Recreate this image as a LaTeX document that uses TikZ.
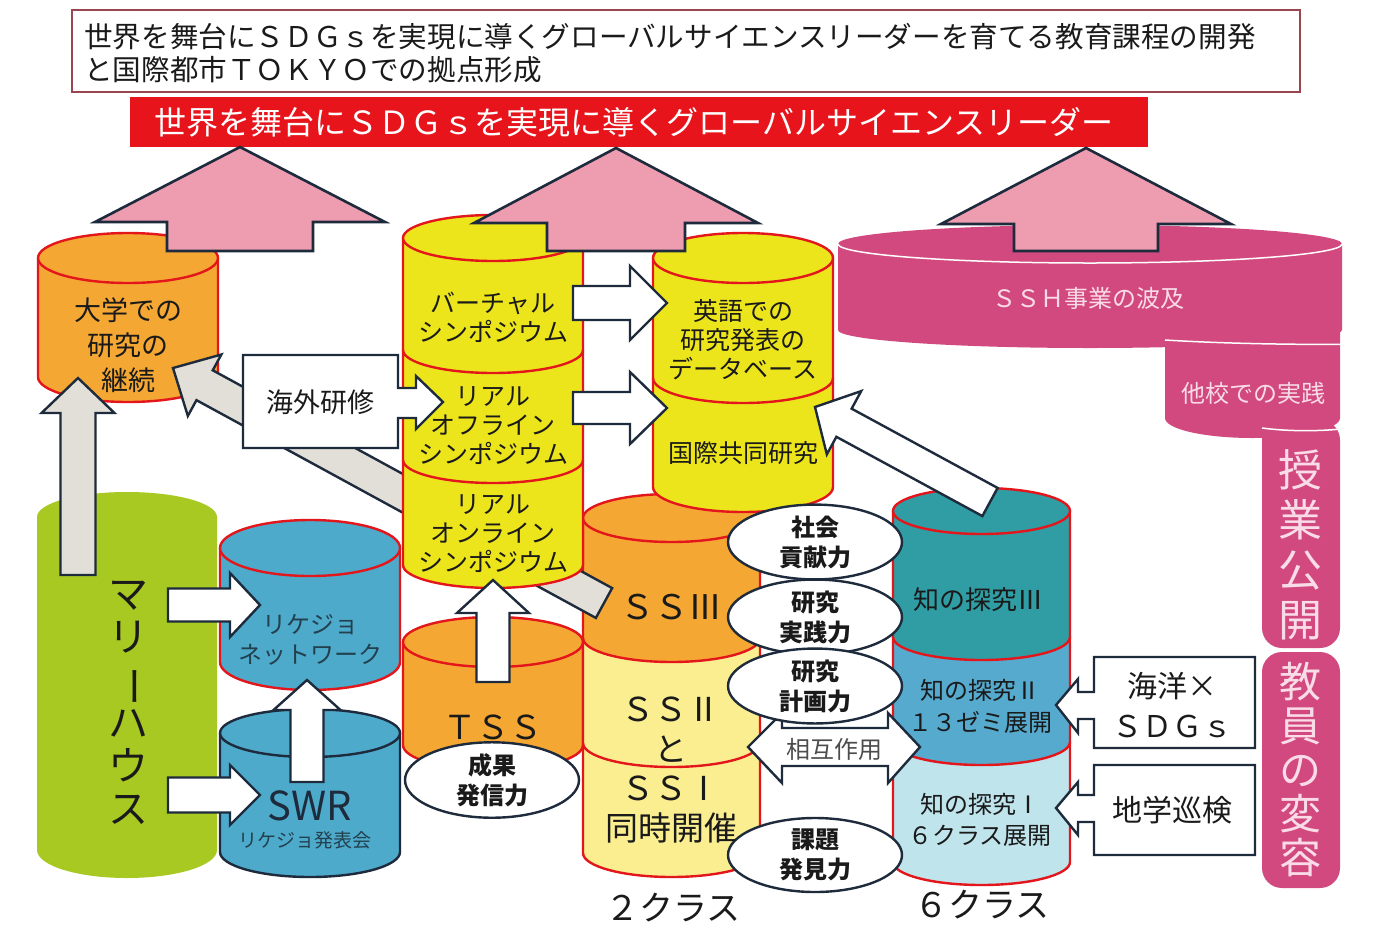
\documentclass[tikz,border=0pt]{standalone}
\usepackage{fontspec}
\setmainfont{Noto Sans CJK JP}
\usetikzlibrary{calc,shapes.geometric}
\definecolor{navy}{HTML}{1E2B3C}
\definecolor{cred}{HTML}{E3161B}
\definecolor{banner}{HTML}{E8141C}
\definecolor{pinkarrow}{HTML}{EE9DB0}
\definecolor{orng}{HTML}{F5A733}
\definecolor{yel}{HTML}{EDE51C}
\definecolor{paleyel}{HTML}{FAEE90}
\definecolor{grn}{HTML}{A8C822}
\definecolor{blu}{HTML}{4DAACB}
\definecolor{tealA}{HTML}{2F9DA3}
\definecolor{tealB}{HTML}{55AACE}
\definecolor{tealC}{HTML}{BFE4EC}
\definecolor{mag}{HTML}{D2497F}
\definecolor{magtxt}{HTML}{F9DCE7}
\definecolor{grayarrow}{HTML}{E2DFD8}
\definecolor{titleborder}{HTML}{9B4550}
\definecolor{txt}{HTML}{1A1A1A}
\definecolor{bluetxt}{HTML}{22404E}
\newcommand\fs[2]{\fontsize{#1pt}{#2pt}\selectfont}
\newcommand\cylbody[7]{%
 \fill[#6] ({#1-#4},#2) -- ({#1-#4},#3) arc[start angle=180,end angle=360,x radius=#4pt,y radius=#5pt] -- ({#1+#4},#2) -- cycle;
 \draw[#7] ({#1-#4},#2) -- ({#1-#4},#3) arc[start angle=180,end angle=360,x radius=#4pt,y radius=#5pt] -- ({#1+#4},#2);}
\newcommand\cyltop[6]{\filldraw[fill=#5,#6] (#1,#2) ellipse[x radius=#3pt,y radius=#4pt];}
\newcommand\cylband[6]{\fill[#6] ({#1-#4},#2) arc[start angle=180,end angle=360,x radius=#4pt,y radius=#5pt] -- ({#1+#4},#3) arc[start angle=0,end angle=-180,x radius=#4pt,y radius=#5pt] -- cycle;}
\newcommand\cyldiv[5]{\draw[#5] ({#1-#3},#2) arc[start angle=180,end angle=360,x radius=#3pt,y radius=#4pt];}
\newcommand\barrow[6]{%
 \coordinate (ba-t) at #1; \coordinate (ba-h) at #2;
 \coordinate (ba-b) at ($(ba-h)!#5!(ba-t)$);
 \draw[#6] ($(ba-t)!#3!90:(ba-h)$) -- ($(ba-b)!#3!90:(ba-h)$) -- ($(ba-b)!#4!90:(ba-h)$) -- (ba-h) -- ($(ba-b)!#4!-90:(ba-h)$) -- ($(ba-b)!#3!-90:(ba-h)$) -- ($(ba-t)!#3!-90:(ba-h)$) -- cycle;}
\tikzset{
 redline/.style={draw=cred,line width=2.4pt},
 navyline/.style={draw=navy,line width=2.4pt},
 noline/.style={draw=none},
 pinkarr/.style={fill=pinkarrow,draw=navy,line width=2.6pt,line join=miter},
 grayarr/.style={fill=grayarrow,draw=navy,line width=2.4pt,line join=miter},
 whitearr/.style={fill=white,draw=navy,line width=2.4pt,line join=miter},
 lbl/.style={inner sep=0pt,align=center,text=txt},
 maglbl/.style={inner sep=0pt,align=center,text=magtxt},
 oval/.style={ellipse,draw=navy,line width=2.4pt,fill=white,minimum width=174pt,minimum height=74pt,inner sep=0pt,align=center,text=txt,font={\fs{24}{30}\bfseries}},
}
\begin{document}
\begin{tikzpicture}[x=1pt,y=-1pt]
\useasboundingbox (0,0) rectangle (1392,927);
\fill[white] (0,0) rectangle (1392,927);
% title
\draw[titleborder,line width=1.5pt,fill=white] (72,10) rectangle (1300,92);
\node[lbl,anchor=west,align=left,font={\fs{28.6}{33}}] (title) at (84,53.5) {世界を舞台にＳＤＧｓを実現に導くグローバルサイエンスリーダーを育てる教育課程の開発\\と国際都市ＴＯＫＹＯでの拠点形成};
\fill[banner] (130,97) rectangle (1148,147);
\node[inner sep=0pt,text=white,font={\fs{32}{36}}] (bannertext) at (634,122) {世界を舞台にＳＤＧｓを実現に導くグローバルサイエンスリーダー};
% university cylinder
\cylbody{128}{258}{377}{90}{25}{orng}{redline}
\cyltop{128}{258}{90}{25}{orng}{redline}
% green
\cylbody{127}{517}{850}{90}{28}{grn}{noline}
\cyltop{127}{517}{90}{25}{grn}{noline}
% rikejo network
\cylbody{310}{548}{662}{90}{28}{blu}{redline}
\cyltop{310}{548}{90}{28}{blu}{redline}
% SWR
\cylbody{310}{733}{852}{90}{25}{blu}{navyline}
\cyltop{310}{733}{90}{24}{blu}{navyline}
% TSS
\cylbody{493}{642}{745}{90}{25}{orng}{redline}
\cyltop{493}{642}{90}{25}{orng}{redline}
% SS stack
\cylband{671.5}{518}{638}{88.5}{24}{orng}
\cylband{671.5}{638}{743}{88.5}{24}{paleyel}
\cylband{671.5}{743}{853}{88.5}{24}{paleyel}
\cylbody{671.5}{518}{853}{88.5}{24}{paleyel,opacity=0}{redline}
\cyldiv{671.5}{638}{88.5}{24}{redline}
\cyldiv{671.5}{743}{88.5}{24}{redline}
\cyltop{671.5}{518}{88.5}{24}{orng}{redline}
% gray diagonal arrow
\barrow{(604,603)}{(173,368)}{17pt}{35pt}{36pt}{grayarr}
% left yellow stack
\cylbody{493}{238}{565}{90}{23}{yel}{redline}
\cyldiv{493}{350}{90}{23}{redline}
\cyldiv{493}{460}{90}{23}{redline}
\cyltop{493}{238}{90}{23}{yel}{redline}
% right yellow stack
\cylbody{743}{258}{487}{90}{25}{yel}{redline}
\cyldiv{743}{378}{90}{25}{redline}
\cyltop{743}{258}{90}{25}{yel}{redline}
% teal stack
\cylband{981.5}{511}{637}{88.5}{23}{tealA}
\cylband{981.5}{637}{742}{88.5}{23}{tealB}
\cylband{981.5}{742}{862}{88.5}{23}{tealC}
\cylbody{981.5}{511}{862}{88.5}{23}{tealC,opacity=0}{redline}
\cyldiv{981.5}{637}{88.5}{23}{redline}
\cyldiv{981.5}{742}{88.5}{23}{redline}
\cyltop{981.5}{511}{88.5}{23}{tealA}{redline}
% magenta
\fill[mag,rounded corners=20pt] (1262,652) rectangle (1340,888);
\fill[mag,rounded corners=20pt] (1262,420) rectangle (1340,648);
\fill[mag] (1165,330) -- (1165,418) arc[start angle=180,end angle=360,x radius=87.5pt,y radius=20pt] -- (1340,330) -- cycle;
\draw[white,line width=1.5pt] (1262,428) arc[start angle=240,end angle=360,x radius=87.5pt,y radius=20pt];
\cylbody{1090}{244}{330}{252}{18}{mag}{noline}
\draw[white,line width=1.5pt] (1165,340) arc[start angle=229,end angle=360,x radius=252pt,y radius=18pt];
\fill[mag] (1090,244) ellipse[x radius=252pt,y radius=19pt];
\draw[white,line width=1.5pt] (838,244) arc[start angle=180,end angle=360,x radius=252pt,y radius=19pt];
% pink arrows
\barrow{(240,251)}{(240,147)}{73pt}{145pt}{75pt}{pinkarr}
\barrow{(616,251)}{(616,148)}{69pt}{142pt}{75pt}{pinkarr}
\barrow{(1086,251)}{(1086,148)}{72pt}{145pt}{76pt}{pinkarr}
% gray up arrow
\barrow{(78,575)}{(78,378)}{17.5pt}{36.5pt}{35pt}{grayarr}
% overseas training callout
\draw[whitearr] (243,355) -- (398,355) -- (398,388) -- (416,388) -- (416,376) -- (443,402) -- (416,429) -- (416,418) -- (398,418) -- (398,448) -- (243,448) -- cycle;
% white arrows
\barrow{(573,303)}{(667,303)}{17pt}{37pt}{37pt}{whitearr}
\barrow{(573,408)}{(667,408)}{16pt}{36pt}{37pt}{whitearr}
\barrow{(168,605)}{(260,605)}{16.5pt}{32pt}{30pt}{whitearr}
\barrow{(168,795)}{(260,795)}{17.5pt}{30pt}{30pt}{whitearr}
\barrow{(307,782)}{(307,680)}{16.5pt}{33.5pt}{30pt}{whitearr}
\barrow{(493,682)}{(493,580)}{16.5pt}{36pt}{33pt}{whitearr}
\barrow{(990,502)}{(815,407)}{16pt}{36pt}{33pt}{whitearr}
% interaction double arrow
\draw[whitearr] (748,747) -- (782,713) -- (782,728) -- (888,728) -- (888,713) -- (920,747) -- (888,783) -- (888,766) -- (782,766) -- (782,783) -- cycle;
\node[inner sep=0pt,text=black!70,font={\fs{24}{28}}] (sogo) at (834,749) {相互作用};
% ovals
\node[oval] (seika) at (492,780) {成果\\発信力};
\node[oval] (shakai) at (815,542) {社会\\貢献力};
\node[oval] (jissen) at (815,617) {研究\\実践力};
\node[oval] (keikaku) at (815,686) {研究\\計画力};
\node[oval] (kadai) at (815,855) {課題\\発見力};
% callouts right
\draw[whitearr] (1255,657) -- (1094,657) -- (1094,692) -- (1078,692) -- (1078,679) -- (1056,705) -- (1078,733) -- (1078,719) -- (1094,719) -- (1094,748) -- (1255,748) -- cycle;
\draw[whitearr] (1255,765) -- (1094,765) -- (1094,795) -- (1078,795) -- (1078,782) -- (1056,808) -- (1078,835) -- (1078,822) -- (1094,822) -- (1094,855) -- (1255,855) -- cycle;
% texts
\node[lbl,font={\fs{27}{35}}] (daigaku) at (128,345) {大学での\\研究の\\継続};
\node[lbl,font={\fs{27}{30}}] (kaigai) at (320,402) {海外研修};
\node[lbl,font={\fs{25}{29}}] (virtual) at (493,317) {バーチャル\\シンポジウム};
\node[lbl,font={\fs{25}{29}}] (offline) at (493,426) {リアル\\オフライン\\シンポジウム};
\node[lbl,font={\fs{25}{29}}] (online) at (493,534) {リアル\\オンライン\\シンポジウム};
\node[lbl,font={\fs{25}{29}}] (eigo) at (743,340) {英語での\\研究発表の\\データベース};
\node[lbl,font={\fs{25}{29}}] (kokusai) at (743,453) {国際共同研究};
\node[lbl,font={\fs{40}{43}}] (marie) at (128,703) {マ\\リ\\\rotatebox[origin=c]{-90}{ー}\\ハ\\ウ\\ス};
\node[inner sep=0pt,align=center,text=bluetxt,font={\fs{24}{30}}] (rikejo) at (310,640) {リケジョ\\ネットワーク};
\node[inner sep=0pt,text=navy,font={\fs{40}{44}}] (swr) at (310,806) {SWR};
\node[inner sep=0pt,text=bluetxt,font={\fs{19}{22}}] (swrsub) at (305,840) {リケジョ発表会};
\node[lbl,font={\fs{33}{36}}] (tss) at (493,727) {ＴＳＳ};
\node[lbl,font={\fs{34}{38}}] (ss3) at (671,607) {ＳＳⅢ};
\node[lbl,font={\fs{33}{39.7}}] (ss21) at (671,770) {ＳＳⅡ\\と\\ＳＳⅠ\\同時開催};
\node[lbl,font={\fs{26}{30}}] (chi3) at (978,600) {知の探究Ⅲ};
\node[lbl,font={\fs{24}{32}}] (chi2) at (980,706) {知の探究Ⅱ\\１３ゼミ展開};
\node[lbl,font={\fs{24}{31}}] (chi1) at (980,820) {知の探究Ⅰ\\６クラス展開};
\node[lbl,font={\fs{30}{40}}] (kaiyo) at (1172,705) {海洋×\\ＳＤＧｓ};
\node[lbl,font={\fs{30}{34}}] (chigaku) at (1172,810) {地学巡検};
\node[maglbl,font={\fs{24}{28}}] (ssh) at (1088,298) {ＳＳＨ事業の波及};
\node[maglbl,font={\fs{24}{28}}] (takou) at (1253,393) {他校での実践};
\node[maglbl,font={\fs{44}{50}}] (jugyo) at (1300,545) {授\\業\\公\\開};
\node[maglbl,font={\fs{42}{44}}] (kyoin) at (1300,770) {教\\員\\の\\変\\容};
\node[lbl,font={\fs{34}{38}}] (two) at (673,908) {２クラス};
\node[lbl,font={\fs{34}{38}}] (six) at (982,905) {６クラス};
\end{tikzpicture}
\end{document}
